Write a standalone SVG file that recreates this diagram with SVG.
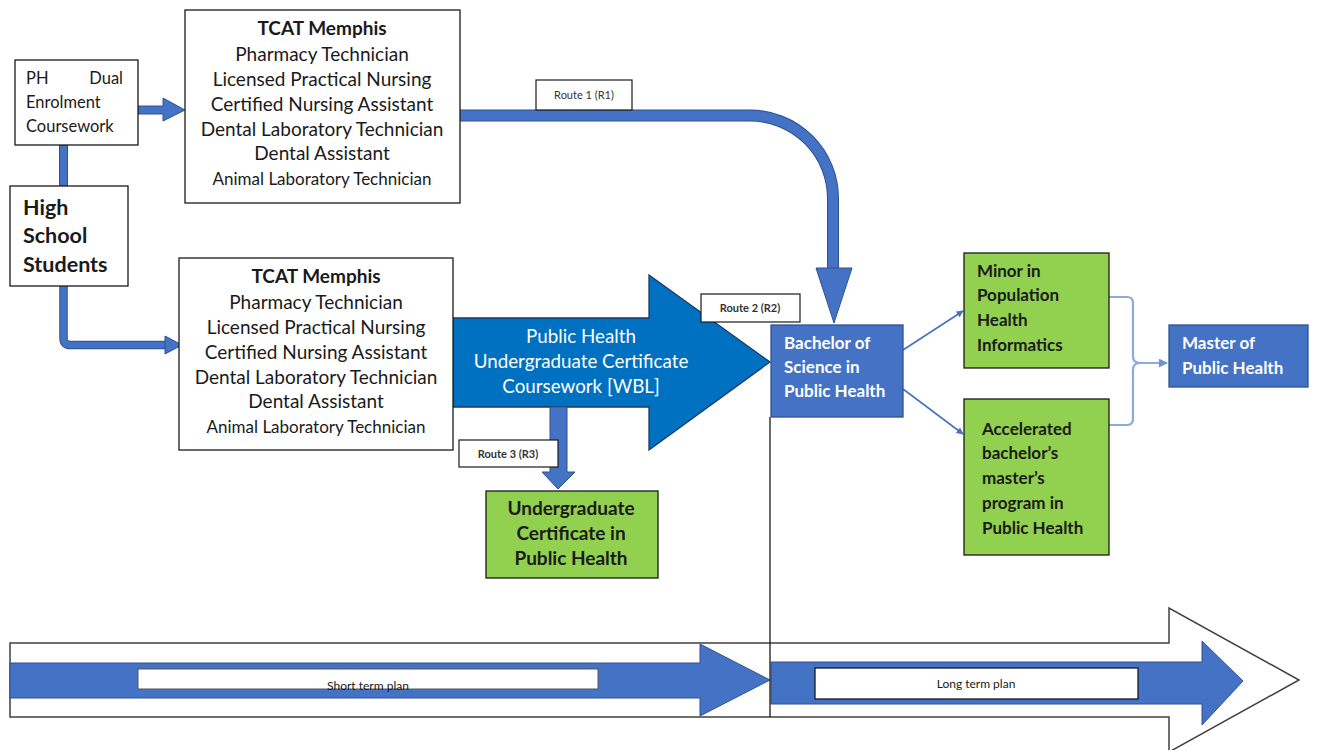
<svg xmlns="http://www.w3.org/2000/svg" width="1317" height="750" viewBox="0 0 1317 750">
<style>
  .box { fill: #ffffff; stroke: #1a1a1a; stroke-width: 1.3; }
  .blue { fill: #4472C4; stroke: #2F528F; stroke-width: 1.3; }
  .green { fill: #92D050; stroke: #1a1a1a; stroke-width: 1.3; }
  .t { font-family: Lato, "Liberation Sans", sans-serif; fill: #1a1a1a; }
  .c { text-anchor: middle; }
  .b { font-weight: bold; }
  .w { fill: #ffffff; }
  .lbl { font-family: Lato, "Liberation Sans", sans-serif; font-size: 11px; fill: #333333; }
  .thin { fill: none; stroke: #4472C4; stroke-width: 1.6; }
  .brk { fill: none; stroke: #8EAADB; stroke-width: 2.2; }
</style>
<defs>
  <marker id="ah" viewBox="0 0 10 10" refX="9" refY="5" markerWidth="7" markerHeight="7" markerUnits="userSpaceOnUse" orient="auto">
    <path d="M0,0 L10,5 L0,10 z" fill="#4472C4"/>
  </marker>
  <marker id="ah2" viewBox="0 0 10 10" refX="9" refY="5" markerWidth="9" markerHeight="9" markerUnits="userSpaceOnUse" orient="auto">
    <path d="M0,0 L10,5 L0,10 z" fill="#6F93D2"/>
  </marker>
</defs>

<!-- timeline (bottom) -->
<g id="timeline">
  <polygon points="10,643 1169,643 1169,608 1299,680 1169,752 1169,717 10,717" fill="#ffffff" stroke="#404040" stroke-width="1.5"/>
  <polygon points="10,663 700,663 700,644 770,680 700,716 700,698 10,698" fill="#4472C4" stroke="#2F528F" stroke-width="1"/>
  <polygon points="771,662 1202,662 1202,641 1243,681 1202,725 1202,704 771,704" fill="#4472C4" stroke="#2F528F" stroke-width="1"/>
  <rect x="138" y="669" width="460" height="20" fill="#ffffff" stroke="#555555" stroke-width="1"/>
  <text class="t c" x="368" y="690" font-size="12" fill="#222">Short term plan</text>
  <rect x="815" y="668" width="323" height="31" fill="#ffffff" stroke="#1a1a1a" stroke-width="1.3"/>
  <text class="t c" x="976" y="688" font-size="12">Long term plan</text>
</g>

<!-- connectors -->
<g id="connectors">
  <!-- PH dual to High School -->
  <rect x="59.5" y="145" width="8" height="41" fill="#4472C4" stroke="#2F528F" stroke-width="1"/>
  <!-- PH dual to TCAT top -->
  <polygon points="138,106 163,106 163,98 185,110 163,121 163,114 138,114" fill="#4472C4" stroke="#2F528F" stroke-width="1"/>
  <!-- High School to TCAT lower -->
  <path d="M63.5,286 V338 Q63.5,345 70,345 H166" fill="none" stroke="#2F528F" stroke-width="8.5"/>
  <path d="M63.5,286 V338 Q63.5,345 70,345 H166" fill="none" stroke="#4472C4" stroke-width="6.5"/>
  <polygon points="165,336 182,345 165,354" fill="#4472C4" stroke="#2F528F" stroke-width="1"/>
  <!-- Route 1 -->
  <path d="M460,115.5 H750 A83,83 0 0 1 833,198.5 V269" fill="none" stroke="#2F528F" stroke-width="12"/>
  <path d="M460,115.5 H750 A83,83 0 0 1 833,198.5 V269" fill="none" stroke="#4472C4" stroke-width="10"/>
  <polygon points="816,268 852,268 834,323" fill="#4472C4" stroke="#2F528F" stroke-width="1"/>
  <!-- Route 2 big arrow -->
  <polygon points="453,318 649,318 649,275 770,362 649,450 649,407 453,407" fill="#0070C0" stroke="#1F3864" stroke-width="1.3"/>
  <text class="t c w" x="581" y="343" font-size="18.8">Public Health</text>
  <text class="t c w" x="581" y="368" font-size="18.8">Undergraduate Certificate</text>
  <text class="t c w" x="581" y="393" font-size="18.8">Coursework [WBL]</text>
  <!-- Route 3 -->
  <polygon points="550,407 567,407 567,472 575,472 558,489 542,472 550,472" fill="#4472C4" stroke="#2F528F" stroke-width="1"/>
  <!-- divider -->
  <line x1="770" y1="417" x2="770" y2="717" stroke="#1a1a1a" stroke-width="1.3"/>
  <!-- Bachelor to minor / accelerated -->
  <line class="thin" x1="903" y1="350" x2="963" y2="311" marker-end="url(#ah)"/>
  <line class="thin" x1="903" y1="389" x2="963" y2="434" marker-end="url(#ah)"/>
  <!-- brackets to master -->
  <path class="brk" d="M1109,297 H1127 Q1133,297 1133,303 V356 Q1133,363 1140,363 H1167" marker-end="url(#ah2)"/>
  <path class="brk" d="M1109,425 H1127 Q1133,425 1133,419 V370 Q1133,363 1140,363"/>
  <!-- route labels -->
  <rect x="536" y="80" width="96" height="30" fill="#ffffff" stroke="#1a1a1a" stroke-width="1.2"/>
  <text class="lbl c" x="584" y="99">Route 1 (R1)</text>
  <rect x="701" y="294" width="99" height="28" fill="#ffffff" stroke="#1a1a1a" stroke-width="1.2"/>
  <text class="lbl c b" x="750" y="312">Route 2 (R2)</text>
  <rect x="459" y="440" width="99" height="27" fill="#ffffff" stroke="#1a1a1a" stroke-width="1.2"/>
  <text class="lbl c b" x="508" y="458">Route 3 (R3)</text>
</g>

<g id="ph-dual">
  <rect class="box" x="15" y="60" width="123" height="85"/>
  <text class="t" x="26" y="84" font-size="16.5">PH</text>
  <text class="t" x="123" y="84" font-size="16.5" text-anchor="end">Dual</text>
  <text class="t" x="26" y="108" font-size="16.5">Enrolment</text>
  <text class="t" x="26" y="132" font-size="16.5">Coursework</text>
</g>

<g id="high-school">
  <rect class="box" x="10" y="186" width="118" height="100"/>
  <text class="t b" x="23" y="215" font-size="21.5">High</text>
  <text class="t b" x="23" y="243" font-size="21.5">School</text>
  <text class="t b" x="23" y="272" font-size="21.5">Students</text>
</g>

<g id="tcat-top">
  <rect class="box" x="185" y="10" width="275" height="193"/>
  <text class="t c b" x="322" y="35" font-size="19">TCAT Memphis</text>
  <text class="t c" x="322" y="61" font-size="19">Pharmacy Technician</text>
  <text class="t c" x="322" y="86" font-size="19">Licensed Practical Nursing</text>
  <text class="t c" x="322" y="111" font-size="19">Certified Nursing Assistant</text>
  <text class="t c" x="322" y="136" font-size="19">Dental Laboratory Technician</text>
  <text class="t c" x="322" y="160" font-size="19">Dental Assistant</text>
  <text class="t c" x="322" y="185" font-size="17">Animal Laboratory Technician</text>
</g>

<g id="tcat-lower">
  <rect class="box" x="179" y="258" width="274" height="192"/>
  <text class="t c b" x="316" y="283" font-size="19">TCAT Memphis</text>
  <text class="t c" x="316" y="309" font-size="19">Pharmacy Technician</text>
  <text class="t c" x="316" y="334" font-size="19">Licensed Practical Nursing</text>
  <text class="t c" x="316" y="359" font-size="19">Certified Nursing Assistant</text>
  <text class="t c" x="316" y="384" font-size="19">Dental Laboratory Technician</text>
  <text class="t c" x="316" y="408" font-size="19">Dental Assistant</text>
  <text class="t c" x="316" y="433" font-size="17">Animal Laboratory Technician</text>
</g>

<g id="undergrad-cert">
  <rect class="green" x="486" y="491" width="172" height="87"/>
  <text class="t c b" x="571" y="515" font-size="19">Undergraduate</text>
  <text class="t c b" x="571" y="540" font-size="19">Certificate in</text>
  <text class="t c b" x="571" y="565" font-size="19">Public Health</text>
</g>

<g id="bachelor">
  <rect class="blue" x="771" y="325" width="132" height="92"/>
  <text class="t b w" x="784" y="349" font-size="17">Bachelor of</text>
  <text class="t b w" x="784" y="373" font-size="17">Science in</text>
  <text class="t b w" x="784" y="397" font-size="17">Public Health</text>
</g>

<g id="minor">
  <rect class="green" x="964" y="253" width="145" height="115"/>
  <text class="t b" x="977" y="277" font-size="17">Minor in</text>
  <text class="t b" x="977" y="301" font-size="17">Population</text>
  <text class="t b" x="977" y="326" font-size="17">Health</text>
  <text class="t b" x="977" y="351" font-size="17">Informatics</text>
</g>

<g id="accelerated">
  <rect class="green" x="964" y="399" width="145" height="156"/>
  <text class="t b" x="982" y="435" font-size="17">Accelerated</text>
  <text class="t b" x="982" y="459" font-size="17">bachelor’s</text>
  <text class="t b" x="982" y="484" font-size="17">master’s</text>
  <text class="t b" x="982" y="509" font-size="17">program in</text>
  <text class="t b" x="982" y="534" font-size="17">Public Health</text>
</g>

<g id="master">
  <rect class="blue" x="1169" y="325" width="139" height="62"/>
  <text class="t b w" x="1182" y="349" font-size="17">Master of</text>
  <text class="t b w" x="1182" y="374" font-size="17">Public Health</text>
</g>
</svg>
